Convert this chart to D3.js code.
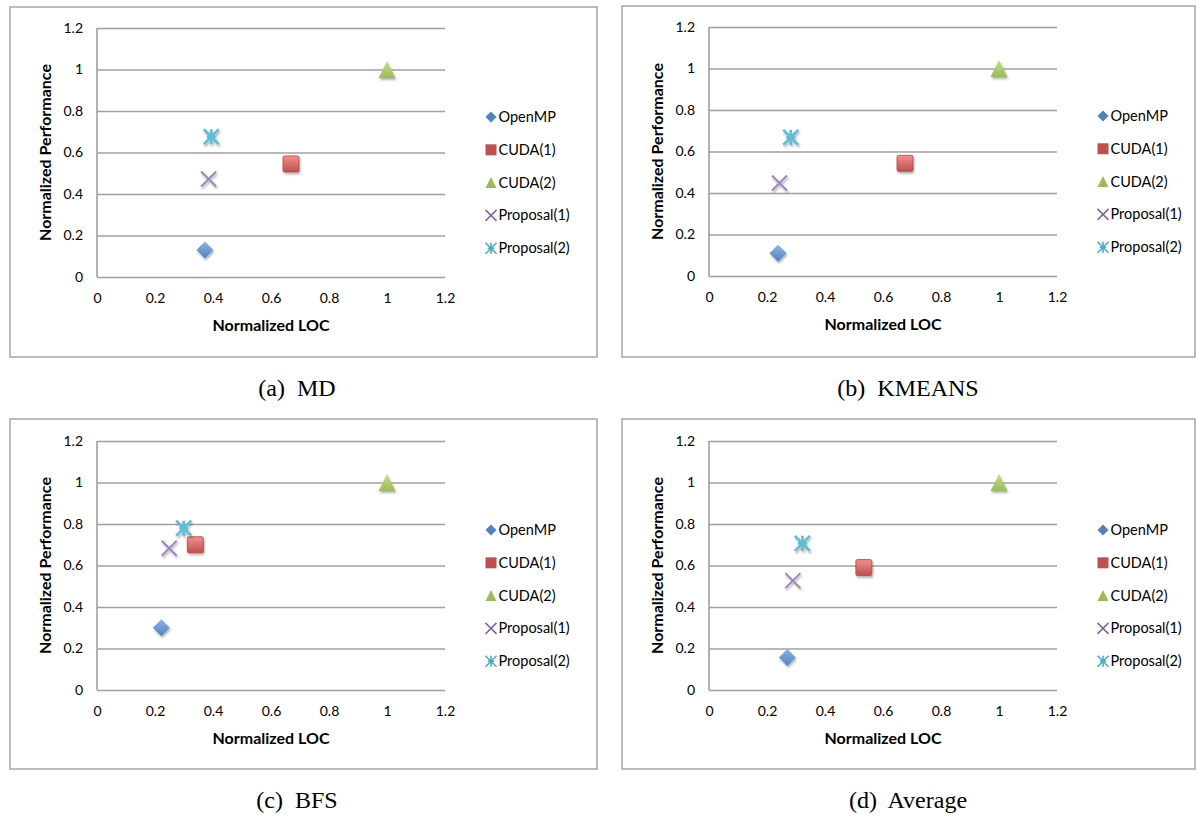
<!DOCTYPE html>
<html><head><meta charset="utf-8">
<script src="https://cdn.jsdelivr.net/npm/d3@7"></script>
<style>body{margin:0;background:#fff}svg{display:block}text{white-space:pre}</style>
</head><body>
<svg id="c" width="1197" height="816"></svg>
<script>
// ---- data ----
const series = ["OpenMP", "CUDA(1)", "CUDA(2)", "Proposal(1)", "Proposal(2)"];
const panelTitles = ["(a)  MD", "(b)  KMEANS", "(c)  BFS", "(d)  Average"];
const tickValues = [0, 0.2, 0.4, 0.6, 0.8, 1, 1.2];
const mdLOC = [0.372, 0.669, 1.0, 0.385, 0.394];
const mdPerf = [0.13, 0.545, 1.0, 0.472, 0.676];
const kmeansLOC = [0.238, 0.676, 1.0, 0.243, 0.282];
const kmeansPerf = [0.11, 0.543, 1.0, 0.448, 0.668];
const bfsLOC = [0.222, 0.339, 1.0, 0.249, 0.299];
const bfsPerf = [0.30, 0.70, 1.0, 0.683, 0.78];
const avgLOC = [0.27, 0.534, 1.0, 0.289, 0.322];
const avgPerf = [0.157, 0.59, 1.0, 0.527, 0.707];
const xTitle = "Normalized LOC";
const yTitle = "Normalized Performance";

// ---- styles ----
const colors = ["#4F81BD", "#C0504D", "#9BBB59", "#8064A2", "#4BACC6"];
const lights = ["#8FB4E3", "#F0908D", "#C6DD8E", "#B39ACF", "#8AD3E6"];
const shapes = ["diamond", "square", "triangle", "x", "star"];

const svg = d3.select("#c");
const defs = svg.append("defs");
colors.forEach((c, i) => {
  const lg = defs.append("linearGradient").attr("id", "g" + i)
    .attr("x1", 0).attr("y1", 0).attr("x2", 0).attr("y2", 1);
  lg.append("stop").attr("offset", "0%").attr("stop-color", lights[i]);
  lg.append("stop").attr("offset", "100%").attr("stop-color", c);
});
const f = defs.append("filter").attr("id", "sh").attr("x", "-50%").attr("y", "-50%").attr("width", "200%").attr("height", "200%");
f.append("feDropShadow").attr("dx", 1).attr("dy", 2).attr("stdDeviation", 1.2).attr("flood-color", "#000").attr("flood-opacity", 0.3);

function marker(g, shape, i, s, fancy) {
  const fill = fancy ? `url(#g${i})` : colors[i];
  const h = s / 2;
  let el;
  if (shape === "diamond") {
    el = g.append("path").attr("d", `M0,${-h}L${h},0L0,${h}L${-h},0Z`).attr("fill", fill);
  } else if (shape === "square") {
    el = g.append("rect").attr("x", -h).attr("y", -h).attr("width", s).attr("height", s).attr("rx", fancy ? 1.5 : 0).attr("fill", fill)
      .attr("stroke", fancy ? "#B8433F" : "none").attr("stroke-width", 0.8);
  } else if (shape === "triangle") {
    el = g.append("path").attr("d", `M0,${-h}L${h},${h}L${-h},${h}Z`).attr("fill", fill);
  } else if (shape === "x") {
    el = g.append("path").attr("d", `M${-h},${-h}L${h},${h}M${h},${-h}L${-h},${h}`)
      .attr("stroke", fancy ? "#9C85BE" : colors[i]).attr("stroke-width", fancy ? 2 : 1.5).attr("fill", "none");
  } else {
    el = g.append("path").attr("d", `M${-h},${-h}L${h},${h}M${h},${-h}L${-h},${h}M${-h*0.6},0L${h*0.6},0M0,${-h}L0,${h}`)
      .attr("stroke", fancy ? "#62BCD4" : colors[i]).attr("stroke-width", fancy ? 2.6 : 1.6).attr("fill", "none");
  }
  if (fancy) el.attr("filter", "url(#sh)");
}

const panelData = [[mdLOC, mdPerf], [kmeansLOC, kmeansPerf], [bfsLOC, bfsPerf], [avgLOC, avgPerf]];
// layout: frame box and plot origin per panel
const layout = [
  {fx: 10, fy: 7, fw: 587, fh: 350, px: 97, py: 28, cx: 297, cy: 388},
  {fx: 622, fy: 6, fw: 573, fh: 351, px: 709, py: 27, cx: 908, cy: 388},
  {fx: 10, fy: 419, fw: 587, fh: 350, px: 97, py: 441, cx: 297, cy: 800},
  {fx: 622, fy: 419, fw: 573, fh: 350, px: 709, py: 441, cx: 908, cy: 800}
];
const PW = 348, PH = 249;
const font = "Lato, 'Open Sans', sans-serif";

panelData.forEach(([xs, ys], p) => {
  const L = layout[p];
  svg.append("rect").attr("x", L.fx).attr("y", L.fy).attr("width", L.fw).attr("height", L.fh)
    .attr("fill", "none").attr("stroke", "#A6A6A6").attr("stroke-width", 1.5);
  const g = svg.append("g").attr("transform", `translate(${L.px},${L.py})`);
  const x = d3.scaleLinear().domain([0, 1.2]).range([0, PW]);
  const y = d3.scaleLinear().domain([0, 1.2]).range([PH, 0]);

  // gridlines + y labels
  const ya = d3.axisLeft(y).tickValues(tickValues).tickSize(-PW).tickPadding(14).tickFormat(d3.format("~g"));
  const yg = g.append("g").call(ya);
  yg.select(".domain").remove();
  yg.selectAll(".tick line").attr("stroke", "#A0A0A0").attr("stroke-width", 1.6);
  yg.selectAll(".tick text").attr("font-family", font).attr("font-size", 14).attr("fill", "#000");
  // x axis labels
  const xa = d3.axisBottom(x).tickValues(tickValues).tickSize(0).tickPadding(16).tickFormat(d3.format("~g"));
  const xg = g.append("g").attr("transform", `translate(0,${PH})`).call(xa);
  xg.select(".domain").remove();
  xg.selectAll(".tick text").attr("font-family", font).attr("font-size", 14).attr("fill", "#000");
  // left axis line
  g.append("line").attr("x1", 0).attr("x2", 0).attr("y1", 0).attr("y2", PH).attr("stroke", "#A0A0A0").attr("stroke-width", 1.6);

  g.append("text").attr("x", PW / 2).attr("y", PH + 54).attr("text-anchor", "middle")
    .attr("font-family", font).attr("font-weight", "bold").attr("font-size", 16).text(xTitle);
  g.append("text").attr("transform", `translate(-46,${PH / 2}) rotate(-90)`).attr("text-anchor", "middle")
    .attr("font-family", font).attr("font-weight", "bold").attr("font-size", 16).text(yTitle);

  // points
  const sizes = [17, 16, 17, 15, 15];
  series.forEach((s, i) => {
    const mg = g.append("g").attr("transform", `translate(${x(xs[i])},${y(ys[i])})`);
    marker(mg, shapes[i], i, sizes[i], true);
  });

  // legend
  const lg = g.append("g").attr("transform", `translate(${PW + 46},89)`);
  series.forEach((s, i) => {
    const r = lg.append("g").attr("transform", `translate(0,${i * 32.8})`);
    marker(r.append("g"), shapes[i], i, 11, false);
    r.append("text").attr("x", 7.5).attr("y", 5).attr("font-family", font).attr("font-size", 14.5).text(s);
  });

  svg.append("text").attr("x", L.cx).attr("y", L.cy + 8).attr("text-anchor", "middle")
    .attr("font-family", "'Liberation Serif', 'Times New Roman', serif").attr("font-size", 24).text(panelTitles[p]);
});
</script>
</body></html>
